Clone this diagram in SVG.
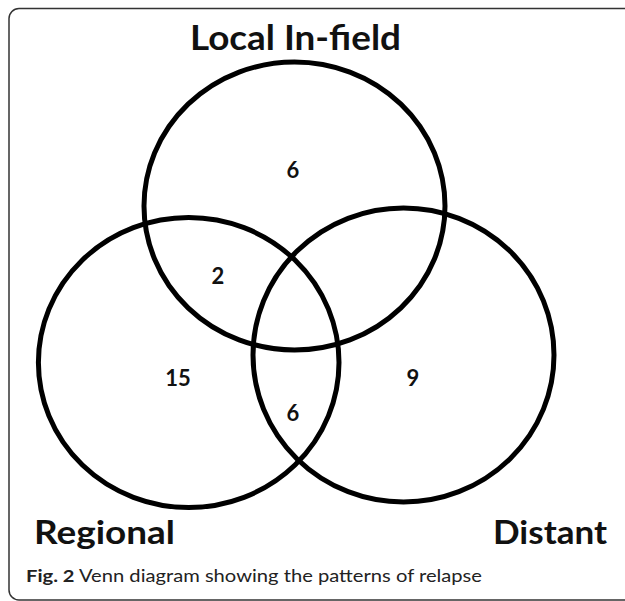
<svg xmlns="http://www.w3.org/2000/svg" width="625" height="601" viewBox="0 0 625 601">
<style>
.set{fill:none;stroke:#000;stroke-width:5}
.lab{font-family:Lato,"Open Sans","Liberation Sans",sans-serif;font-weight:bold;fill:#111}
.num{font-family:Lato,"Open Sans","Liberation Sans",sans-serif;font-weight:bold;font-size:22px;fill:#111;text-anchor:middle}
.cap{font-family:Lato,"Open Sans","Liberation Sans",sans-serif;font-size:17px;fill:#222}
</style>
<rect width="625" height="601" fill="#fff"/>
<path d="M640 8.5 H19 A10 10 0 0 0 9 18.5 V590 A10 10 0 0 0 19 600 H640" fill="none" stroke="#333" stroke-width="1.5"/>
<g id="local">
<ellipse class="set" cx="294.5" cy="206" rx="150.5" ry="144"/>
<text class="lab" x="190" y="50" font-size="34" textLength="211" lengthAdjust="spacingAndGlyphs">Local In-field</text>
</g>
<g id="regional">
<ellipse class="set" cx="188.7" cy="362.5" rx="150.3" ry="145"/>
<text class="lab" x="34" y="544" font-size="32" textLength="141" lengthAdjust="spacingAndGlyphs">Regional</text>
</g>
<g id="distant">
<ellipse class="set" cx="403.5" cy="355" rx="150.5" ry="147"/>
<text class="lab" x="493" y="544" font-size="32" textLength="114" lengthAdjust="spacingAndGlyphs">Distant</text>
</g>
<g id="counts">
<text class="num" x="293" y="178">6</text>
<text class="num" x="218" y="284">2</text>
<text class="num" x="178" y="386">15</text>
<text class="num" x="293" y="421">6</text>
<text class="num" x="413" y="386">9</text>
</g>
<g id="caption">
<text class="cap" x="26" y="582" textLength="456" lengthAdjust="spacingAndGlyphs"><tspan font-weight="bold">Fig. 2</tspan> Venn diagram showing the patterns of relapse</text>
</g>
</svg>
